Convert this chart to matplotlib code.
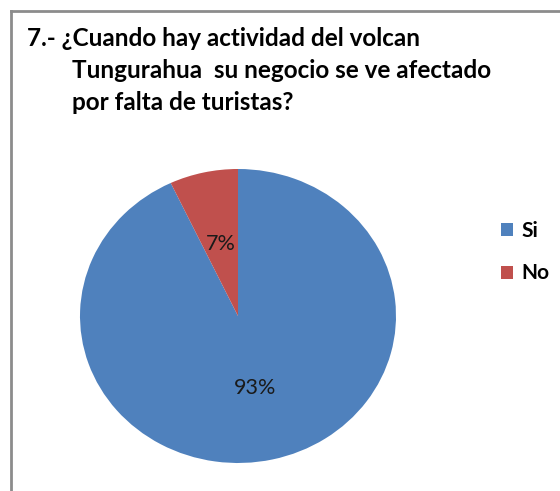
import matplotlib
matplotlib.use("Agg")
import matplotlib.pyplot as plt
from matplotlib.lines import Line2D
from matplotlib.patches import Patch

# chart data
labels = ["Si", "No"]
values = [93, 7]
colors = ["#4F81BD", "#C0504D"]
title_lines = ["7.- ¿Cuando hay actividad del volcan",
               "Tungurahua  su negocio se ve afectado",
               "por falta de turistas?"]

W, H = 560, 491
fig = plt.figure(figsize=(W / 100, H / 100), dpi=100)
plt.rcParams['font.family'] = ['Lato', 'DejaVu Sans']

# outer frame (only top and left edges fall inside the picture)
fig.add_artist(Line2D([10.5 / W, 1.0], [1 - 10.5 / H, 1 - 10.5 / H],
                      color="#8c8c8c", lw=2, transform=fig.transFigure))
fig.add_artist(Line2D([10.5 / W, 10.5 / W], [0.0, 1 - 10.5 / H],
                      color="#8c8c8c", lw=2, transform=fig.transFigure))

# title
fs_title = 17.5
fig.text(27 / W, 1 - 38 / H, title_lines[0], fontsize=fs_title, fontweight="bold",
         va="center", ha="left")
fig.text(72 / W, 1 - 71 / H, title_lines[1], fontsize=fs_title, fontweight="bold",
         va="center", ha="left")
fig.text(72 / W, 1 - 103 / H, title_lines[2], fontsize=fs_title, fontweight="bold",
         va="center", ha="left")

# pie (slightly stretched horizontally, as in the original)
cx, cy, rx, ry = 238, 316, 158, 147
ax = fig.add_axes([(cx - rx) / W, (H - cy - ry) / H, 2 * rx / W, 2 * ry / H])
wedges, _, autotexts = ax.pie(values, colors=colors, startangle=90, counterclock=False,
                              autopct="%1.0f%%", pctdistance=0.5, radius=1,
                              textprops={"fontsize": 15.5, "color": "#1a1a1a"})
ax.set_xlim(-1, 1)
ax.set_ylim(-1, 1)
ax.set_aspect("auto")
ax.axis("off")

# legend
handles = [Patch(facecolor=c, edgecolor="none") for c in colors]
fig.legend(handles, labels, loc="center left", bbox_to_anchor=(482 / W, 1 - 252 / H),
           frameon=False, prop={"weight": "bold", "size": 15},
           handlelength=0.6, handleheight=0.6, handletextpad=0.4, labelspacing=1.1)

fig.savefig("out.png", dpi=100)
